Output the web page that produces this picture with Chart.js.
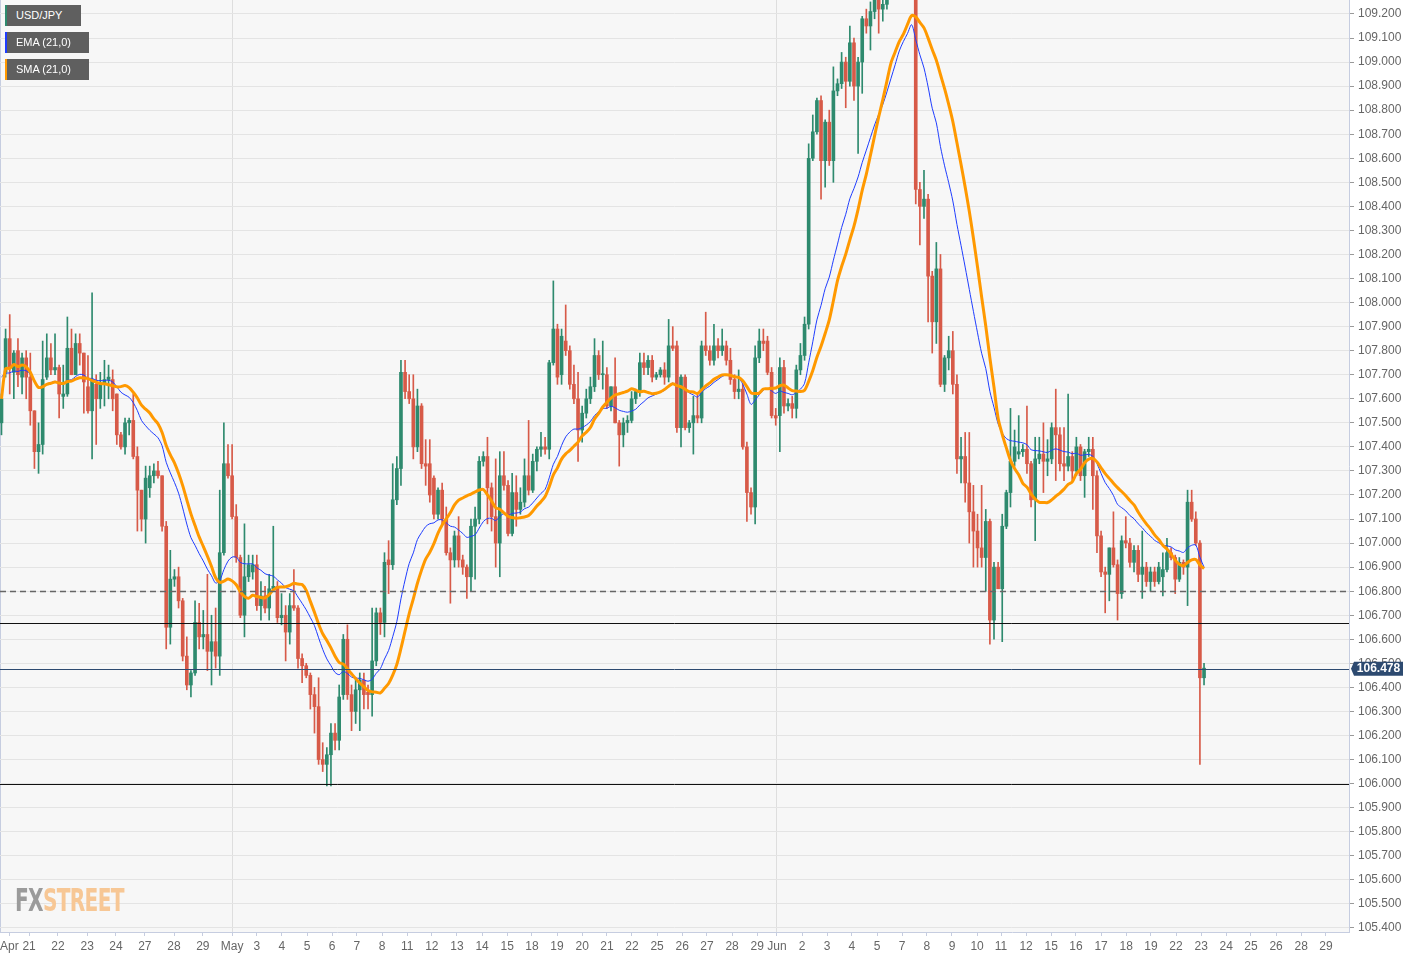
<!DOCTYPE html>
<html>
<head>
<meta charset="utf-8">
<title>USD/JPY 4H</title>
<script src="https://cdn.jsdelivr.net/npm/chart.js@4.4.1/dist/chart.umd.min.js"></script>
<style>
  html, body { margin: 0; padding: 0; background: #fff; }
  #wrap { position: relative; width: 1420px; height: 958px; overflow: hidden; }
  #chart { position: absolute; left: 0; top: 0; }
  .tag {
    position: absolute; left: 5px; height: 21px; box-sizing: border-box;
    background: #5f5f5f; color: #fff; padding-left: 9px;
    font: 11px "Liberation Sans", Arial, sans-serif; line-height: 21px;
  }
  .logo {
    position: absolute; left: 15px; top: 881px; white-space: nowrap;
    font: bold 32px "DejaVu Sans Condensed", "Liberation Sans Narrow", sans-serif;
    letter-spacing: -1px; transform: scaleX(0.70); transform-origin: left top;
  }
  .logo .fx { color: #9b9b9b; }
  .logo .st { color: #f7c795; }
</style>
</head>
<body>
<div id="wrap">
  <canvas id="chart" width="1420" height="958"></canvas>
  <div class="tag" style="top:5px;width:76px;border-left:2px solid #2e8a6e;">USD/JPY</div>
  <div class="tag" style="top:32px;width:84px;border-left:2px solid #1f3dff;">EMA (21,0)</div>
  <div class="tag" style="top:59px;width:84px;border-left:2px solid #ff9900;">SMA (21,0)</div>
  <div class="logo"><span class="fx">FX</span><span class="st">STREET</span></div>
</div>
<script>
// ---------------- data (4h candles, Apr 21 -> Jun 23) ----------------
const opens = [
  107.50,107.71,107.85,107.71,107.80,107.69,107.77,107.69,107.55,107.38,
  107.41,107.69,107.77,107.72,107.73,107.61,107.62,107.81,107.70,107.83,
  107.79,107.65,107.55,107.66,107.60,107.66,107.68,107.68,107.62,107.45,
  107.40,107.50,107.51,107.36,107.22,107.10,107.23,107.28,107.30,107.28,
  107.07,106.65,106.85,106.86,106.76,106.53,106.41,106.46,106.67,106.61,
  106.62,106.55,106.59,106.53,106.96,107.33,107.28,107.11,106.94,106.70,
  106.86,106.88,106.91,106.74,106.78,106.73,106.81,106.82,106.69,106.70,
  106.63,106.74,106.73,106.52,106.49,106.45,106.37,106.32,106.10,106.08,
  106.12,106.21,106.18,106.37,106.60,106.37,106.30,106.39,106.43,106.38,
  106.37,106.51,106.71,106.67,106.93,106.91,107.18,107.31,107.71,107.63,
  107.60,107.40,107.57,107.33,107.33,107.27,107.12,107.22,107.10,106.96,
  106.93,107.03,106.93,106.90,106.86,107.07,107.10,107.34,107.36,107.23,
  107.11,107.00,107.28,107.24,107.04,107.21,107.14,107.17,107.28,107.22,
  107.34,107.39,107.40,107.39,107.75,107.89,107.70,107.84,107.80,107.66,
  107.60,107.47,107.54,107.60,107.65,107.78,107.70,107.70,107.57,107.65,
  107.50,107.45,107.50,107.51,107.60,107.63,107.75,107.73,107.76,107.69,
  107.70,107.72,107.69,107.82,107.82,107.48,107.69,107.48,107.50,107.53,
  107.52,107.82,107.80,107.76,107.82,107.80,107.82,107.76,107.68,107.63,
  107.64,107.40,107.21,107.15,107.77,107.84,107.84,107.71,107.53,107.53,
  107.73,107.57,107.58,107.56,107.72,107.78,107.91,108.60,108.71,108.84,
  108.59,108.75,108.59,108.88,108.91,109.00,108.92,109.08,108.90,109.00,
  109.18,109.15,109.21,109.26,109.22,109.24,109.40,109.50,109.55,109.62,
  109.48,109.45,109.52,108.47,108.40,108.43,108.11,107.92,108.14,107.66,
  107.77,107.80,107.66,107.35,107.36,107.25,107.13,107.05,106.98,106.94,
  107.09,106.68,106.90,106.81,107.07,107.21,107.34,107.37,107.38,107.39,
  107.33,107.18,107.35,107.37,107.34,107.35,107.48,107.45,107.33,107.32,
  107.36,107.30,107.40,107.28,107.38,107.39,107.28,107.03,106.88,106.87,
  106.98,106.91,106.79,107.01,107.00,106.92,106.97,106.87,106.90,106.84,
  106.88,106.84,106.86,106.89,106.96,106.94,106.85,106.92,106.90,107.17,
  107.10,107.00,106.44
];
const highs = [
  107.62,107.89,107.95,107.80,107.85,107.79,107.80,107.79,107.55,107.50,
  107.84,107.87,107.83,107.87,107.74,107.74,107.94,107.89,107.87,107.87,
  107.79,107.78,108.04,107.70,107.71,107.76,107.74,107.72,107.62,107.46,
  107.52,107.52,107.62,107.40,107.22,107.32,107.32,107.33,107.34,107.28,
  107.09,106.97,106.89,106.90,106.77,106.61,106.47,106.76,106.75,106.72,
  106.87,106.70,106.73,107.22,107.50,107.41,107.41,107.16,106.95,107.08,
  106.95,106.95,106.95,106.84,106.82,106.87,107.07,106.84,106.79,106.74,
  106.79,106.89,106.74,106.54,106.50,106.46,106.40,106.44,106.17,106.15,
  106.25,106.25,106.41,106.62,106.66,106.41,106.44,106.46,106.46,106.41,
  106.73,106.73,106.73,106.96,107.01,107.33,107.36,107.76,107.76,107.70,
  107.70,107.64,107.58,107.43,107.43,107.28,107.23,107.25,107.15,106.98,
  107.05,107.11,106.95,106.91,107.10,107.15,107.36,107.38,107.44,107.25,
  107.35,107.38,107.38,107.26,107.29,107.28,107.23,107.35,107.51,107.37,
  107.40,107.46,107.44,107.76,108.09,107.91,107.89,107.99,107.82,107.74,
  107.71,107.57,107.64,107.69,107.85,107.80,107.84,107.73,107.65,107.77,
  107.51,107.52,107.53,107.63,107.64,107.79,107.79,107.78,107.78,107.71,
  107.73,107.75,107.93,107.90,107.84,107.70,107.70,107.51,107.61,107.62,
  107.84,107.96,107.82,107.91,107.85,107.89,107.84,107.81,107.70,107.72,
  107.66,107.42,107.23,107.82,107.89,107.89,107.86,107.73,107.56,107.77,
  107.76,107.60,107.61,107.74,107.83,107.94,108.66,108.78,108.85,108.86,
  108.76,108.80,108.98,108.93,109.04,109.02,109.15,109.10,109.02,109.19,
  109.22,109.25,109.32,109.30,109.30,109.45,109.55,109.65,109.85,109.70,
  109.55,109.58,109.60,108.50,108.55,108.45,108.13,108.25,108.20,107.78,
  107.86,107.88,107.70,107.44,107.46,107.46,107.24,107.12,107.24,107.14,
  107.10,106.92,106.92,107.12,107.22,107.56,107.47,107.53,107.41,107.57,
  107.34,107.44,107.44,107.50,107.43,107.50,107.64,107.48,107.48,107.62,
  107.38,107.44,107.41,107.39,107.44,107.44,107.30,107.05,106.90,106.98,
  107.13,106.93,107.03,107.11,107.02,106.99,106.99,107.05,106.92,106.90,
  106.90,106.92,106.96,107.02,106.98,106.95,106.94,106.93,107.22,107.22,
  107.13,107.01,106.50
];
const lows = [
  107.45,107.69,107.62,107.60,107.65,107.62,107.60,107.49,107.31,107.29,
  107.37,107.68,107.70,107.70,107.52,107.56,107.61,107.70,107.70,107.74,
  107.54,107.54,107.35,107.41,107.56,107.57,107.60,107.55,107.41,107.39,
  107.37,107.45,107.35,107.05,107.05,107.00,107.19,107.25,107.27,107.05,
  106.56,106.58,106.82,106.73,106.51,106.39,106.36,106.45,106.56,106.56,
  106.47,106.41,106.48,106.45,106.95,107.27,107.10,106.92,106.69,106.61,
  106.84,106.85,106.72,106.68,106.71,106.68,106.80,106.67,106.66,106.51,
  106.58,106.72,106.48,106.42,106.44,106.31,106.21,106.08,106.05,105.99,
  105.99,106.14,106.14,106.35,106.35,106.22,106.25,106.22,106.31,106.31,
  106.28,106.49,106.62,106.61,106.79,106.89,107.16,107.24,107.60,107.58,
  107.35,107.38,107.31,107.24,107.17,107.10,107.10,107.08,106.95,106.75,
  106.90,106.90,106.87,106.77,106.80,106.85,107.08,107.32,107.08,107.05,
  106.90,106.86,107.22,107.03,107.03,107.07,107.12,107.15,107.20,107.21,
  107.30,107.36,107.37,107.35,107.74,107.66,107.66,107.78,107.64,107.58,
  107.34,107.42,107.52,107.58,107.63,107.68,107.64,107.56,107.55,107.50,
  107.32,107.40,107.46,107.50,107.58,107.61,107.70,107.70,107.67,107.68,
  107.69,107.66,107.67,107.80,107.46,107.40,107.47,107.46,107.37,107.50,
  107.50,107.78,107.74,107.74,107.77,107.78,107.74,107.66,107.60,107.60,
  107.39,107.09,107.12,107.08,107.75,107.80,107.70,107.52,107.49,107.38,
  107.54,107.55,107.52,107.52,107.70,107.76,107.89,108.59,108.70,108.43,
  108.48,108.57,108.50,108.86,108.89,108.81,108.90,108.84,108.62,108.87,
  109.12,109.05,109.18,109.12,109.17,109.22,109.35,109.42,109.52,109.45,
  109.40,109.40,108.41,108.24,108.35,107.92,107.79,107.83,107.65,107.63,
  107.72,107.62,107.29,107.25,107.17,107.00,106.90,106.90,106.90,106.80,
  106.58,106.60,106.81,106.59,107.06,107.15,107.32,107.35,107.36,107.29,
  107.15,107.01,107.33,107.21,107.28,107.33,107.26,107.30,107.26,107.30,
  107.26,107.28,107.26,107.19,107.36,107.14,106.96,106.86,106.71,106.76,
  106.90,106.68,106.77,106.98,106.90,106.88,106.84,106.77,106.82,106.80,
  106.82,106.83,106.78,106.88,106.93,106.79,106.84,106.87,106.74,107.09,
  106.99,106.08,106.41
];
const closes = [
  107.60,107.85,107.73,107.79,107.70,107.77,107.69,107.55,107.38,107.41,
  107.68,107.77,107.72,107.73,107.62,107.62,107.81,107.70,107.83,107.79,
  107.67,107.55,107.68,107.60,107.66,107.68,107.69,107.60,107.45,107.40,
  107.50,107.51,107.36,107.22,107.10,107.27,107.28,107.30,107.28,107.07,
  106.65,106.85,106.86,106.76,106.53,106.41,106.46,106.67,106.61,106.62,
  106.55,106.59,106.53,106.96,107.33,107.28,107.11,106.94,106.70,106.86,
  106.91,106.91,106.74,106.78,106.73,106.81,106.82,106.69,106.70,106.63,
  106.74,106.73,106.52,106.49,106.45,106.37,106.32,106.10,106.08,106.12,
  106.21,106.18,106.36,106.60,106.37,106.30,106.39,106.43,106.37,106.37,
  106.51,106.71,106.67,106.92,106.91,107.18,107.31,107.71,107.63,107.60,
  107.40,107.57,107.33,107.32,107.20,107.12,107.22,107.10,106.96,106.93,
  107.03,106.93,106.90,106.86,107.07,107.10,107.34,107.36,107.23,107.11,
  107.00,107.28,107.24,107.04,107.21,107.14,107.17,107.28,107.22,107.34,
  107.39,107.40,107.39,107.75,107.89,107.69,107.86,107.80,107.66,107.60,
  107.47,107.54,107.60,107.65,107.78,107.70,107.70,107.57,107.65,107.50,
  107.45,107.50,107.51,107.60,107.63,107.75,107.73,107.76,107.69,107.70,
  107.72,107.69,107.82,107.81,107.48,107.69,107.48,107.50,107.53,107.52,
  107.82,107.80,107.76,107.82,107.80,107.82,107.76,107.68,107.63,107.64,
  107.40,107.21,107.15,107.77,107.84,107.83,107.71,107.53,107.52,107.73,
  107.57,107.58,107.56,107.72,107.78,107.91,108.60,108.71,108.84,108.59,
  108.75,108.59,108.88,108.91,109.00,108.92,109.08,108.90,109.00,109.18,
  109.15,109.21,109.26,109.22,109.24,109.40,109.50,109.55,109.62,109.48,
  109.45,109.52,108.47,108.40,108.43,108.11,107.92,108.14,107.66,107.77,
  107.80,107.66,107.35,107.36,107.25,107.13,107.05,106.98,106.94,107.09,
  106.68,106.90,106.81,107.07,107.21,107.34,107.40,107.38,107.39,107.33,
  107.18,107.35,107.37,107.34,107.35,107.48,107.45,107.33,107.32,107.36,
  107.30,107.40,107.28,107.38,107.39,107.28,107.03,106.88,106.87,106.98,
  106.91,106.79,107.01,107.00,106.92,106.97,106.87,106.90,106.84,106.88,
  106.84,106.90,106.89,106.96,106.94,106.85,106.92,106.90,107.17,107.10,
  107.00,106.44,106.48
];

// x-axis day labels and the candle slot where each one sits
const dayLabels = ['Apr','21','22','23','24','27','28','29','May','3','4','5','6','7','8',
  '11','12','13','14','15','18','19','20','21','22','25','26','27','28','29','Jun',
  '2','3','4','5','7','8','9','10','11','12','15','16','17','18','19','22','23',
  '24','25','26','28','29'];
const dayIdx = [1.9, 6.7, 13.7, 20.8, 27.8, 34.8, 41.9, 48.9, 56.0, 62.0, 68.1, 74.2, 80.3,
  86.3, 92.4, 98.5, 104.5, 110.6, 116.7, 122.8, 128.8, 134.9, 141.0, 147.0, 153.1,
  159.2, 165.3, 171.3, 177.4, 183.5, 188.3, 194.4, 200.5, 206.5, 212.6, 218.7, 224.7,
  230.8, 236.9, 242.7, 248.8, 254.9, 260.9, 267.0, 273.1, 279.1, 285.2, 291.3, 297.4,
  303.4, 309.5, 315.6, 321.6];
const monthLabels = ['May', 'Jun'];

const emaSeed = 107.70;      // EMA value at the left edge
const dashedLevels = [106.80];
const solidLevels = [106.668, 106.00];
const lastPrice = 106.478;

// ---------------- build datasets ----------------
const UP = '#2e8a6e';
const DOWN = '#d75a48';
const FONT = '"Liberation Sans", Arial, sans-serif';

const candleColors = closes.map((c, i) => c >= opens[i] ? UP : DOWN);
const bodyData = closes.map((c, i) => ({ x: i, y: [opens[i], c] }));
const wickData = closes.map((c, i) => ({
  x: i,
  y: [Math.min(lows[i], opens[i], c), Math.max(highs[i], opens[i], c)]
}));

// SMA(21) - partial window for the first candles
const smaData = closes.map((c, i) => {
  const win = closes.slice(Math.max(0, i - 20), i + 1);
  return { x: i, y: win.reduce((a, b) => a + b, 0) / win.length };
});

// EMA(21)
const K = 2 / 22;
let emaPrev = emaSeed;
const emaData = closes.map((c, i) => {
  emaPrev = emaPrev + K * (c - emaPrev);
  return { x: i, y: emaPrev };
});

// ---------------- plugins ----------------
const plotBackground = {
  id: 'plotBackground',
  beforeDraw(chart) {
    const { ctx, chartArea: a } = chart;
    ctx.save();
    ctx.fillStyle = '#f7f7f7';
    ctx.fillRect(a.left, a.top, a.right - a.left, a.bottom - a.top);
    ctx.strokeStyle = '#c6cde0';
    ctx.lineWidth = 1;
    ctx.beginPath();
    ctx.moveTo(a.left + 0.5, a.top);
    ctx.lineTo(a.left + 0.5, a.bottom);
    ctx.stroke();
    ctx.restore();
  }
};

const levelLines = {
  id: 'levelLines',
  afterDatasetsDraw(chart) {
    const { ctx, chartArea: a, scales: { y } } = chart;
    ctx.save();
    ctx.beginPath();
    ctx.rect(a.left, a.top, a.right - a.left, a.bottom - a.top);
    ctx.clip();

    dashedLevels.forEach(v => {
      const py = Math.round(y.getPixelForValue(v)) + 0.5;
      ctx.strokeStyle = '#666';
      ctx.lineWidth = 1.6;
      ctx.setLineDash([6, 4]);
      ctx.beginPath();
      ctx.moveTo(a.left, py);
      ctx.lineTo(a.right, py);
      ctx.stroke();
    });
    ctx.setLineDash([]);

    solidLevels.forEach(v => {
      const py = Math.round(y.getPixelForValue(v)) + 0.5;
      ctx.strokeStyle = '#111';
      ctx.lineWidth = 1;
      ctx.beginPath();
      ctx.moveTo(a.left, py);
      ctx.lineTo(a.right, py);
      ctx.stroke();
    });

    const lp = Math.round(y.getPixelForValue(lastPrice)) + 0.5;
    ctx.strokeStyle = '#2d4a70';
    ctx.lineWidth = 1;
    ctx.beginPath();
    ctx.moveTo(a.left, lp);
    ctx.lineTo(a.right, lp);
    ctx.stroke();
    ctx.restore();
  },
  afterDraw(chart) {
    // last price badge on the right axis
    const { ctx, chartArea: a, scales: { y } } = chart;
    const py = y.getPixelForValue(lastPrice);
    const x0 = a.right;
    ctx.save();
    ctx.fillStyle = '#2d4a70';
    ctx.beginPath();
    ctx.moveTo(x0 + 2, py);
    ctx.lineTo(x0 + 5, py - 7);
    ctx.lineTo(x0 + 54, py - 7);
    ctx.lineTo(x0 + 54, py + 7);
    ctx.lineTo(x0 + 5, py + 7);
    ctx.closePath();
    ctx.fill();
    ctx.fillStyle = '#fff';
    ctx.font = 'bold 12px ' + FONT;
    ctx.textAlign = 'center';
    ctx.textBaseline = 'middle';
    ctx.fillText(lastPrice.toFixed(3), x0 + 29.5, py + 0.5);
    ctx.restore();
  }
};

// ---------------- chart ----------------
new Chart(document.getElementById('chart').getContext('2d'), {
  data: {
    datasets: [
      {
        type: 'line', label: 'SMA (21,0)', data: smaData,
        borderColor: '#ff9900', borderWidth: 3, pointRadius: 0,
        tension: 0.3, borderJoinStyle: 'round', order: 0
      },
      {
        type: 'line', label: 'EMA (21,0)', data: emaData,
        borderColor: '#1f3dff', borderWidth: 1, pointRadius: 0,
        tension: 0.3, order: 1
      },
      {
        type: 'bar', label: 'body', data: bodyData,
        backgroundColor: candleColors, barThickness: 3, minBarLength: 1,
        grouped: false, order: 2
      },
      {
        type: 'bar', label: 'wick', data: wickData,
        backgroundColor: candleColors, barThickness: 1,
        grouped: false, order: 3
      }
    ]
  },
  options: {
    responsive: false,
    animation: false,
    devicePixelRatio: 1,
    layout: { padding: 0 },
    plugins: { legend: { display: false }, tooltip: { enabled: false } },
    scales: {
      x: {
        type: 'linear',
        min: -0.36,
        max: 327.2,
        offset: false,
        afterBuildTicks: s => { s.ticks = dayIdx.map(v => ({ value: v })); },
        afterFit: s => { s.height = 26; s.paddingLeft = 0; s.paddingRight = 0; },
        ticks: {
          autoSkip: false, maxRotation: 0, padding: 3,
          color: '#666', font: { size: 12, family: FONT },
          callback: (v, i) => dayLabels[i]
        },
        grid: {
          offset: false,
          color: c => monthLabels.includes(dayLabels[c.index]) ? '#dedede' : 'rgba(0,0,0,0)',
          tickColor: '#c6cde0',
          tickLength: 4
        },
        border: { color: '#c6cde0' }
      },
      y: {
        position: 'right',
        min: 105.383,
        max: 109.258,
        beginAtZero: false,
        afterFit: s => { s.width = 71; s.paddingTop = 0; s.paddingBottom = 0; },
        ticks: {
          stepSize: 0.1, includeBounds: false, padding: 4,
          color: '#666', font: { size: 12, family: FONT },
          callback: v => v.toFixed(3)
        },
        grid: { color: '#e4e4e4', tickColor: '#999', tickLength: 5 },
        border: { color: '#c6cde0' }
      }
    }
  },
  plugins: [plotBackground, levelLines]
});
</script>
</body>
</html>
